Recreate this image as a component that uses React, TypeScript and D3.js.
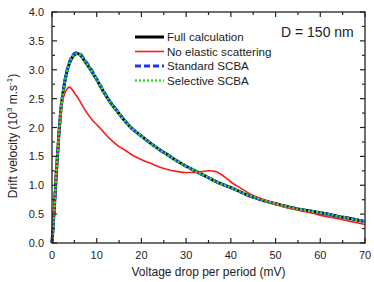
import React from "react";
import * as d3 from "d3";

const xTicks = [0, 10, 20, 30, 40, 50, 60, 70];
const yTicks = [0, 0.5, 1.0, 1.5, 2.0, 2.5, 3.0, 3.5, 4.0];

const fullX = [0, 0.5, 1.0, 1.5, 2.0, 2.5, 3, 3.5, 4, 4.5, 5, 5.75, 6.5, 7.4, 8.3, 9.2, 10, 11, 12, 13, 14.5, 16, 17.5, 19, 20.5, 22, 24, 26, 28, 30, 32, 34, 36, 38, 40, 42, 44, 46, 48, 50, 52, 55, 58, 61, 64, 67, 70];
const fullY = [0, 0.58, 1.25, 1.83, 2.32, 2.62, 2.85, 3.02, 3.13, 3.21, 3.26, 3.28, 3.24, 3.14, 3.04, 2.93, 2.83, 2.69, 2.56, 2.44, 2.29, 2.14, 2.01, 1.91, 1.82, 1.73, 1.62, 1.52, 1.42, 1.33, 1.25, 1.17, 1.09, 1.02, 0.96, 0.89, 0.82, 0.77, 0.72, 0.68, 0.64, 0.59, 0.55, 0.51, 0.46, 0.42, 0.37];
const stdY = [0, 0.58, 1.25, 1.83, 2.32, 2.63, 2.86, 3.03, 3.15, 3.23, 3.28, 3.3, 3.26, 3.16, 3.06, 2.95, 2.84, 2.7, 2.57, 2.45, 2.3, 2.15, 2.01, 1.91, 1.82, 1.73, 1.62, 1.52, 1.42, 1.33, 1.25, 1.17, 1.09, 1.02, 0.96, 0.89, 0.82, 0.77, 0.72, 0.68, 0.64, 0.59, 0.55, 0.51, 0.46, 0.42, 0.37];
const selY = fullY;

const noElX = [0, 0.5, 1.0, 1.5, 2, 2.5, 3, 3.5, 3.9, 4.5, 5, 5.9, 7.4, 9, 10.4, 12, 13.7, 15, 16.3, 17.4, 19, 20.4, 22, 24.2, 26, 27.9, 30, 31, 33, 35, 36.5, 37.6, 39, 40.5, 42, 44.3, 46, 48, 50, 51.7, 55.5, 58, 60.7, 64, 67, 70];
const noElY = [0, 0.58, 1.25, 1.83, 2.28, 2.5, 2.62, 2.68, 2.7, 2.66, 2.6, 2.5, 2.3, 2.13, 2.02, 1.88, 1.75, 1.67, 1.61, 1.55, 1.48, 1.43, 1.38, 1.31, 1.27, 1.24, 1.22, 1.22, 1.23, 1.25, 1.24, 1.2, 1.12, 1.03, 0.96, 0.85, 0.79, 0.73, 0.67, 0.63, 0.56, 0.52, 0.47, 0.42, 0.37, 0.32];

const seriesNames = ["Full calculation", "No elastic scattering", "Standard SCBA", "Selective SCBA"];

const W = 374, H = 282;
const L = 52, R = 365, T = 12, B = 243;

export default function App() {
  const x = d3.scaleLinear().domain([0, 70]).range([L, R]);
  const y = d3.scaleLinear().domain([0, 4]).range([B, T]);
  const line = d3.line<[number, number]>().x(d => x(d[0])).y(d => y(d[1])).curve(d3.curveMonotoneX);
  const full = fullX.map((v, i) => [v, fullY[i]] as [number, number]);
  const std = fullX.map((v, i) => [v, stdY[i]] as [number, number]);
  const sel = fullX.map((v, i) => [v, selY[i]] as [number, number]);
  const noEl = noElX.map((v, i) => [v, noElY[i]] as [number, number]);
  const xMinor = d3.range(5, 70, 10);
  const yMinor = d3.range(0.25, 4, 0.5);
  const font = "'Liberation Sans', Arial, sans-serif";
  const axisColor = "#222";
  const styles = [
    { stroke: "#000", width: 3, dash: "" },
    { stroke: "#ff1a1a", width: 1.6, dash: "" },
    { stroke: "#1f35ff", width: 3, dash: "6,3" },
    { stroke: "#22e622", width: 2.6, dash: "2,2" },
  ];
  const legY = [37, 51.5, 66, 80.5];
  return (
    <svg width={W} height={H} style={{ position: "absolute", left: 0, top: 0, background: "#fff" }} fontFamily={font}>
      <rect x={0} y={0} width={W} height={H} fill="#fff" />
      <path d={line(full) || ""} fill="none" stroke={styles[0].stroke} strokeWidth={styles[0].width} />
      <path d={line(std) || ""} fill="none" stroke={styles[2].stroke} strokeWidth={styles[2].width} strokeDasharray={styles[2].dash} />
      <path d={line(noEl) || ""} fill="none" stroke={styles[1].stroke} strokeWidth={styles[1].width} />
      <path d={line(sel) || ""} fill="none" stroke={styles[3].stroke} strokeWidth={styles[3].width} strokeDasharray={styles[3].dash} />
      <rect x={L} y={T} width={R - L} height={B - T} fill="none" stroke={axisColor} strokeWidth={1.3} />
      {xTicks.map(t => (
        <g key={"xt" + t}>
          <line x1={x(t)} x2={x(t)} y1={B} y2={B - 5} stroke={axisColor} strokeWidth={1.2} />
          <line x1={x(t)} x2={x(t)} y1={T} y2={T + 5} stroke={axisColor} strokeWidth={1.2} />
          <text x={x(t)} y={B + 16} fontSize={11} textAnchor="middle" fill="#222">{t}</text>
        </g>
      ))}
      {xMinor.map(t => (
        <g key={"xm" + t}>
          <line x1={x(t)} x2={x(t)} y1={B} y2={B - 3} stroke={axisColor} strokeWidth={1.2} />
          <line x1={x(t)} x2={x(t)} y1={T} y2={T + 3} stroke={axisColor} strokeWidth={1.2} />
        </g>
      ))}
      {yTicks.map(t => (
        <g key={"yt" + t}>
          <line x1={L} x2={L + 5} y1={y(t)} y2={y(t)} stroke={axisColor} strokeWidth={1.2} />
          <line x1={R} x2={R - 5} y1={y(t)} y2={y(t)} stroke={axisColor} strokeWidth={1.2} />
          <text x={L - 8} y={y(t) + 4} fontSize={11} textAnchor="end" fill="#222">{t.toFixed(1)}</text>
        </g>
      ))}
      {yMinor.map(t => (
        <g key={"ym" + t}>
          <line x1={L} x2={L + 3} y1={y(t)} y2={y(t)} stroke={axisColor} strokeWidth={1.2} />
          <line x1={R} x2={R - 3} y1={y(t)} y2={y(t)} stroke={axisColor} strokeWidth={1.2} />
        </g>
      ))}
      <text x={(L + R) / 2} y={276} fontSize={12} textAnchor="middle" fill="#222">Voltage drop per period (mV)</text>
      <text transform={`translate(17,${136}) rotate(-90)`} fontSize={12} textAnchor="middle" fill="#222">
        Drift velocity (10<tspan dy={-5} fontSize={8}>3</tspan><tspan dy={5}> m.s</tspan><tspan dy={-5} fontSize={8}>-1</tspan><tspan dy={5}>)</tspan>
      </text>
      {seriesNames.map((n, i) => (
        <g key={n}>
          <line x1={135} x2={164} y1={legY[i]} y2={legY[i]} stroke={styles[i].stroke} strokeWidth={styles[i].width} strokeDasharray={styles[i].dash} />
          <text x={167} y={legY[i] + 4} fontSize={11.6} fill="#222">{n}</text>
        </g>
      ))}
      <text x={281} y={37} fontSize={14} fill="#222">D = 150 nm</text>
    </svg>
  );
}
